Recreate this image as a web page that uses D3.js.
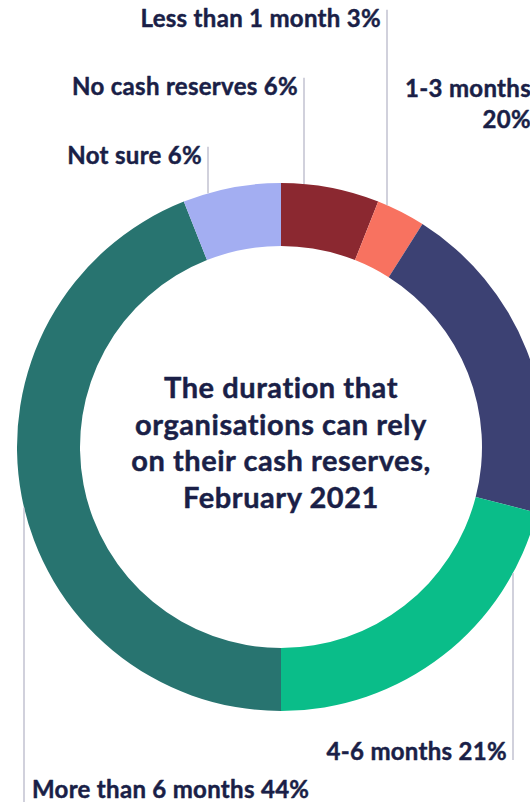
<!DOCTYPE html>
<html>
<head>
<meta charset="utf-8">
<script src="https://cdn.jsdelivr.net/npm/d3@7"></script>
<style>
html,body{margin:0;padding:0;background:#fff;overflow:hidden;}
svg{display:block;}
text{font-family:Lato,"Noto Sans",sans-serif;font-weight:700;fill:#1a1f47;stroke:#1a1f47;stroke-width:0.45px;stroke-linejoin:round;}
</style>
</head>
<body>
<svg id="chart" width="530" height="802"></svg>
<script>
// ---- data ----
const categories = ["No cash reserves", "Less than 1 month", "1-3 months", "4-6 months", "More than 6 months", "Not sure"];
const values = [6, 3, 20, 21, 44, 6];
const labelLines = [["No cash reserves 6%"], ["Less than 1 month 3%"], ["1-3 months", "20%"], ["4-6 months 21%"], ["More than 6 months 44%"], ["Not sure 6%"]];
const titleLines = ["The duration that", "organisations can rely", "on their cash reserves,", "February 2021"];

// ---- styles / layout ----
const colors = ["#8b2830", "#f87260", "#3c4173", "#0abd89", "#287470", "#a3aef2"];
const W = 530, H = 802;
const cx = 281, cy = 447, R = 264, r = 201;
const labelLayout = [
  {lx: 304, by: 95,  side: "left"},
  {lx: 387, by: 27,  side: "left"},
  {lx: 537, by: 97,  side: "left", lineGap: 31},
  {lx: 513, by: 760, side: "left", down: true},
  {lx: 24,  by: 798, side: "right", down: true, lineEnd: 802},
  {lx: 208, by: 164, side: "left"}
];

const svg = d3.select("#chart");

const pie = d3.pie().sort(null).value(d => d).startAngle(0).endAngle(2 * Math.PI);
const arc = d3.arc().innerRadius(r).outerRadius(R);
const arcs = pie(values);

const g = svg.append("g").attr("transform", `translate(${cx},${cy})`);
g.selectAll("path.slice")
  .data(arcs)
  .join("path")
  .attr("class", "slice")
  .attr("d", arc)
  .attr("fill", (d, i) => colors[i]);

// leader lines + labels
const labelSize = 24, capH = labelSize * 0.72;
labelLayout.forEach((L, i) => {
  const dx = L.lx - cx;
  const dy = Math.sqrt(Math.max(0, R * R - dx * dx));
  let y1, y2;
  if (L.down) {
    y1 = cy + dy;
    y2 = L.lineEnd !== undefined ? L.lineEnd : L.by;
  } else {
    y1 = cy - dy;
    y2 = L.by - capH;
  }
  svg.append("line")
    .attr("x1", L.lx).attr("x2", L.lx)
    .attr("y1", y1).attr("y2", y2)
    .attr("stroke", "#b9b9c9").attr("stroke-width", 1.3);

  const t = svg.append("text")
    .attr("font-size", labelSize)
    .attr("text-anchor", L.side === "left" ? "end" : "start")
    .attr("letter-spacing", 0.3);
  labelLines[i].forEach((s, k) => {
    t.append("tspan")
      .attr("x", L.side === "left" ? L.lx - 6 : L.lx + 8)
      .attr("y", L.by + k * (L.lineGap || 0))
      .text(s);
  });
});

// center title
const title = svg.append("text")
  .attr("text-anchor", "middle")
  .attr("font-size", 29)
  .attr("letter-spacing", 0.55);
titleLines.forEach((s, k) => {
  title.append("tspan")
    .attr("x", cx)
    .attr("y", 398 + k * 36.7)
    .text(s);
});
</script>
</body>
</html>
